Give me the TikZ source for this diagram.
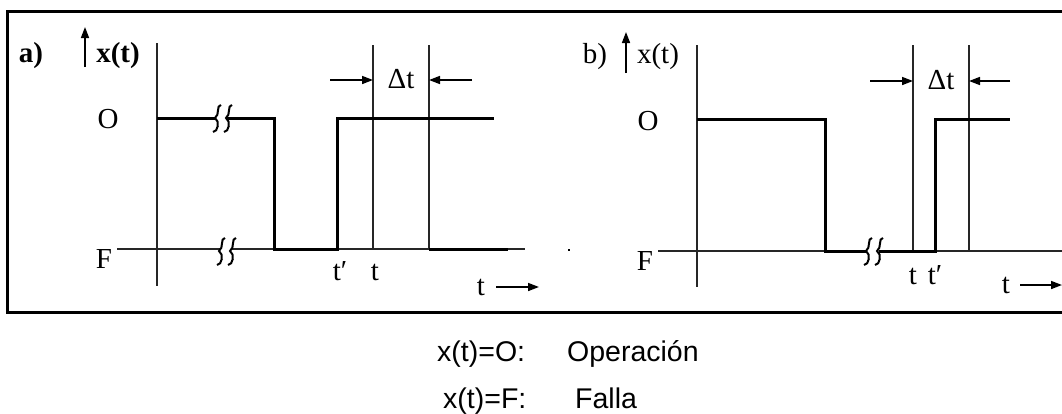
\documentclass[tikz,border=0pt]{standalone}
\usepackage{fontspec}
\setmainfont{Liberation Serif}
\newfontfamily\capfont{Liberation Sans}
\usetikzlibrary{arrows.meta}
\begin{document}
\begin{tikzpicture}[x=1pt,y=-1pt,
  thinl/.style={line width=1.6pt,draw=black!85},
  sig/.style={line width=3pt,line join=miter},
  lbl/.style={inner sep=0pt,anchor=base,font=\fontsize{29}{32}\selectfont},
  captxt/.style={inner sep=0pt,anchor=base west,font=\capfont\fontsize{28.5}{32}\selectfont},
  tipar/.style={-{Triangle[length=11pt,width=8pt]},line width=1.6pt},
  brk/.pic={\draw[line width=2pt] (4,-13) .. controls (-1,-13) and (3,-3) .. (-2,0) .. controls (3,3) and (1,14) .. (-4,14);}
]
% frame
\draw[line width=3pt] (1062,11) -- (7,11) -- (7,312) -- (1062,312);

% ---------- panel a ----------
\coordinate (aTl) at (373,45); \coordinate (aTb) at (373,249);
\coordinate (aDl) at (429,45); \coordinate (aDb) at (429,249);
\draw[thinl] (157,43) -- (157,286);
\draw[thinl] (117,249) -- (220,249);
\draw[thinl] (232,249) -- (525,249);
\draw[thinl] (aTl) -- (aTb);
\draw[thinl] (aDl) -- (aDb);
\draw[sig] (157,118) -- (216,118);
\draw[sig] (227,118) -- (274,118) -- (274,249) -- (337,249) -- (337,118) -- (494,118);
\draw[sig] (429,249) -- (508,249);
\pic at (217,118) {brk}; \pic at (228,118) {brk};
\pic at (221,251) {brk}; \pic at (232,251) {brk};
\coordinate (aL0) at (330,80); \coordinate (aL1) at (373,80);
\coordinate (aR0) at (472,80); \coordinate (aR1) at (429,80);
\draw[tipar] (aL0) -- (aL1);
\draw[tipar] (aR0) -- (aR1);
\coordinate (aU0) at (85,67); \coordinate (aU1) at (85,27);
\draw[tipar] (aU0) -- (aU1);
\coordinate (aT0) at (496,287); \coordinate (aT1) at (539,287);
\draw[tipar] (aT0) -- (aT1);
\node[lbl,font=\bfseries\fontsize{29}{32}\selectfont] (alab) at (31,62) {a)};
\node[lbl,font=\bfseries\fontsize{29}{32}\selectfont] (axt) at (118,62) {x(t)};
\node[lbl] (aO) at (108,128) {O};
\node[lbl] (aF) at (104,268) {F};
\node[lbl] (adt) at (401,88) {Δt};
\node[lbl] (atp) at (340,280) {t′};
\node[lbl] (at) at (375,280) {t};
\node[lbl] (att) at (481,295) {t};

% stray dot
\fill (568,249) rectangle (570,251);

% ---------- panel b ----------
\coordinate (bTl) at (913,45); \coordinate (bTb) at (913,251);
\coordinate (bDl) at (969,45); \coordinate (bDb) at (969,251);
\draw[thinl] (697,45) -- (697,287);
\draw[thinl] (658,251) -- (867,251);
\draw[thinl] (879,251) -- (1062,251);
\draw[thinl] (bTl) -- (bTb);
\draw[thinl] (bDl) -- (bDb);
\draw[sig] (697,119) -- (825,119) -- (825,251) -- (867,251);
\draw[sig] (879,251) -- (935,251) -- (935,119) -- (1010,119);
\pic at (868,251) {brk}; \pic at (879,251) {brk};
\coordinate (bL0) at (870,81); \coordinate (bL1) at (913,81);
\coordinate (bR0) at (1010,81); \coordinate (bR1) at (969,81);
\draw[tipar] (bL0) -- (bL1);
\draw[tipar] (bR0) -- (bR1);
\coordinate (bU0) at (626,73); \coordinate (bU1) at (626,32);
\draw[tipar] (bU0) -- (bU1);
\coordinate (bT0) at (1020,285); \coordinate (bT1) at (1062,285);
\draw[tipar] (bT0) -- (bT1);
\node[lbl] (blab) at (595,63) {b)};
\node[lbl] (bxt) at (658,63) {x(t)};
\node[lbl] (bO) at (648,130) {O};
\node[lbl] (bF) at (645,270) {F};
\node[lbl] (bdt) at (941,89) {Δt};
\node[lbl] (bt) at (913,284) {t};
\node[lbl] (btp) at (935,284) {t′};
\node[lbl] (btt) at (1006,293) {t};

% ---------- caption ----------
\node[captxt] (c1) at (437,361) {x(t)=O:};
\node[captxt] (c2) at (567,361) {Operación};
\node[captxt] (c3) at (443,408) {x(t)=F:};
\node[captxt] (c4) at (575,408) {Falla};

\pgfresetboundingbox
\useasboundingbox (0,0) rectangle (1062,413);
\end{tikzpicture}
\end{document}
